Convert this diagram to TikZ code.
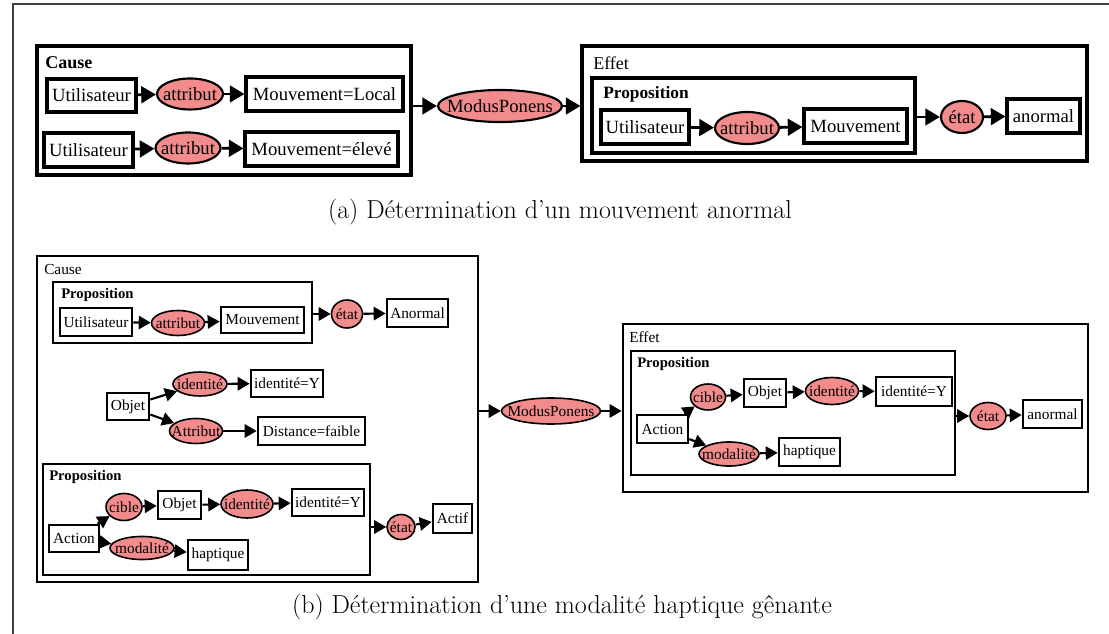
\documentclass[tikz,border=0pt]{standalone}
\usepackage{fontspec}
\newfontfamily\tms{Liberation Serif}
\usetikzlibrary{shapes.geometric,arrows.meta,fit}
\definecolor{elfill}{HTML}{F28C8C}
\newcommand\zw[1]{\makebox[0pt]{#1}}
\tikzset{
  fA/.style={font=\tms\fontsize{14}{16}\selectfont},
  fB/.style={font=\tms\fontsize{11.5}{13}\selectfont},
  esz/.style 2 args={minimum width=#1*0.75pt, minimum height=#2*0.75pt},
  bxA/.style={draw, rectangle, line width=2.3pt, fill=white, inner sep=0pt, fA},
  bxB/.style={draw, rectangle, line width=2pt, fill=white, inner sep=0pt, fB},
  grpA/.style={draw, line width=2.3pt, inner sep=0pt},
  grpB/.style={draw, line width=2.1pt, inner sep=0pt},
  elA/.style={ellipse, draw, line width=1.6pt, fill=elfill, inner sep=0pt, fA},
  elB/.style={ellipse, draw, line width=1.2pt, fill=elfill, inner sep=0pt, fB},
  arA/.style={line width=2.1pt, -{Triangle[length=11pt,width=12.5pt]}},
  arB/.style={line width=1.6pt, -{Triangle[length=9pt,width=10pt]}},
  lblA/.style={anchor=west, inner sep=0pt, font=\tms\fontsize{13.5}{15}\selectfont},
  lblB/.style={anchor=west, inner sep=0pt, font=\tms\fontsize{11.5}{13}\selectfont},
  captxt/.style={inner sep=0pt, font=\fontsize{19.5}{22}\selectfont},
}
\begin{document}
\begin{tikzpicture}[x=0.75pt,y=-0.75pt]
\useasboundingbox (0,0) rectangle (1109,634);
% frame
\coordinate (fr1) at (1109,4);
\coordinate (fr2) at (13,4);
\coordinate (fr3) at (13,634);
\draw[line width=0.9pt, black!75] (fr1) -- (fr2) -- (fr3);

% ---------------- (a) ----------------
\node[grpA, fit={(37,46) (411,175)}] (causeA) {};
\node[lblA, font=\tms\bfseries\fontsize{13.5}{15}\selectfont] (causeAl) at (45,63) {Cause};
\node[bxA, esz={89}{33}] (uA1) at (91.5,95.5) {\zw{Utilisateur}};
\node[elA, esz={66}{31}] (eA1) at (190,94) {\zw{attribut}};
\node[bxA, esz={157}{34}] (mlA) at (324.5,94) {\zw{Mouvement=Local}};
\node[bxA, esz={89}{34}] (uA2) at (88.5,150) {\zw{Utilisateur}};
\node[elA, esz={65}{31}] (eA2) at (188,148) {\zw{attribut}};
\node[bxA, esz={153}{34}] (meA) at (321.5,149) {\zw{Mouvement=élevé}};
\node[elA, esz={124}{32}] (mpA) at (500,106) {\zw{ModusPonens}};
\node[grpA, fit={(582,46) (1087,161)}] (effA) {};
\node[lblA] (effAl) at (593,63) {Effet};
\node[grpA, fit={(592,78) (915,153)}] (propA) {};
\node[lblA, font=\tms\bfseries\fontsize{13}{15}\selectfont] (propAl) at (603,94) {Proposition};
\node[bxA, esz={88}{34}] (uA3) at (645,127) {\zw{Utilisateur}};
\node[elA, esz={64}{32}] (eA3) at (747,128) {\zw{attribut}};
\node[bxA, esz={103}{34}] (mvA) at (855.5,126) {\zw{Mouvement}};
\node[elA, esz={42}{32}] (etA) at (962,117) {\zw{état}};
\node[bxA, esz={73}{34}] (anA) at (1043.5,116) {\zw{anormal}};

\draw[arA] (uA1) -- (eA1);
\draw[arA] (eA1) -- (mlA);
\draw[arA] (uA2) -- (eA2);
\draw[arA] (eA2) -- (meA);
\draw[arA] (causeA.east |- mpA) -- (mpA);
\draw[arA] (mpA) -- (mpA -| effA.west);
\draw[arA] (uA3) -- (eA3);
\draw[arA] (eA3) -- (mvA);
\draw[arA] (propA.east |- etA) -- (etA);
\draw[arA] (etA) -- (anA);

\node[captxt] (capA) at (560,212) {(a) Détermination d’un mouvement anormal};

% ---------------- (b) ----------------
\node[grpB, fit={(37,256) (478,582)}] (causeB) {};
\node[lblB] (causeBl) at (44,269) {Cause};
\node[grpB, fit={(53,282) (312,343)}] (propB1) {};
\node[lblB, font=\tms\bfseries\fontsize{11}{13}\selectfont] (propB1l) at (61,295) {Proposition};
\node[bxB, esz={72}{28}] (uB) at (96,322) {\zw{Utilisateur}};
\node[elB, esz={53}{25}] (eB1) at (178,323) {\zw{attribut}};
\node[bxB, esz={83}{26}] (mvB) at (262.5,320) {\zw{Mouvement}};
\node[elB, esz={31}{28}] (etB1) at (347,314) {\zw{état}};
\node[bxB, esz={61}{28}] (anB) at (417.5,313) {\zw{Anormal}};
\node[bxB, esz={42}{27}] (objB) at (128,406.5) {\zw{Objet}};
\node[elB, esz={54}{24}] (idB) at (200,384) {\zw{identité}};
\node[bxB, esz={72}{27}] (idyB) at (287,383.5) {\zw{identité=Y}};
\node[elB, esz={53}{25}] (atB) at (196,431) {\zw{Attribut}};
\node[bxB, esz={107}{28}] (dfB) at (311.5,431) {\zw{Distance=faible}};
\node[grpB, fit={(43,464) (370,575)}] (propB2) {};
\node[lblB, font=\tms\bfseries\fontsize{11}{13}\selectfont] (propB2l) at (49,477) {Proposition};
\node[elB, esz={36}{27}] (ciB) at (124,507) {\zw{cible}};
\node[bxB, esz={43}{28}] (obB2) at (179.5,505) {\zw{Objet}};
\node[elB, esz={52}{28}] (idB2) at (247,504) {\zw{identité}};
\node[bxB, esz={72}{27}] (idyB2) at (328,502.5) {\zw{identité=Y}};
\node[bxB, esz={50}{27}] (acB) at (74,538.5) {\zw{Action}};
\node[elB, esz={64}{23}] (moB) at (142,548) {\zw{modalité}};
\node[bxB, esz={60}{30}] (haB) at (218,555) {\zw{haptique}};
\node[elB, esz={28}{25}] (etB2) at (401,527) {\zw{état}};
\node[bxB, esz={39}{29}] (actB) at (452.5,518.5) {\zw{Actif}};

\node[elB, esz={99}{26}] (mpB) at (551,411) {\zw{ModusPonens}};

\node[grpB, fit={(623,324) (1088,492)}] (effB) {};
\node[lblB] (effBl) at (629,337) {Effet};
\node[grpB, fit={(631,351) (955,475)}] (propB3) {};
\node[lblB, font=\tms\bfseries\fontsize{11}{13}\selectfont] (propB3l) at (637,364) {Proposition};
\node[elB, esz={35}{26}] (ciR) at (708,397) {\zw{cible}};
\node[bxB, esz={42}{28}] (obR) at (765,393) {\zw{Objet}};
\node[elB, esz={53}{27}] (idR) at (832,391) {\zw{identité}};
\node[bxB, esz={76}{29}] (idyR) at (914,391.5) {\zw{identité=Y}};
\node[bxB, esz={51}{28}] (acR) at (662.5,429) {\zw{Action}};
\node[elB, esz={60}{24}] (moR) at (729,454) {\zw{modalité}};
\node[bxB, esz={61}{28}] (haR) at (809.5,452) {\zw{haptique}};
\node[elB, esz={36}{27}] (etR) at (988,416) {\zw{état}};
\node[bxB, esz={59}{28}] (anR) at (1052.5,414) {\zw{anormal}};

\draw[arB] (uB) -- (eB1);
\draw[arB] (eB1) -- (mvB);
\draw[arB] (propB1.east |- etB1) -- (etB1);
\draw[arB] (etB1) -- (anB);
\draw[arB] (objB) -- (idB);
\draw[arB] (idB) -- (idyB);
\draw[arB] (objB) -- (atB);
\draw[arB] (atB) -- (dfB);
\draw[arB] (acB) -- (ciB);
\draw[arB] (ciB) -- (obB2);
\draw[arB] (obB2) -- (idB2);
\draw[arB] (idB2) -- (idyB2);
\draw[arB] (acB) -- (moB);
\draw[arB] (moB) -- (haB);
\draw[arB] (propB2.east |- etB2) -- (etB2);
\draw[arB] (etB2) -- (actB);
\draw[arB] (causeB.east |- mpB) -- (mpB);
\draw[arB] (mpB) -- (mpB -| effB.west);
\draw[arB] (acR) -- (ciR);
\draw[arB] (ciR) -- (obR);
\draw[arB] (obR) -- (idR);
\draw[arB] (idR) -- (idyR);
\draw[arB] (acR) -- (moR);
\draw[arB] (moR) -- (haR);
\draw[arB] (propB3.east |- etR) -- (etR);
\draw[arB] (etR) -- (anR);

\node[captxt] (capB) at (562,607) {(b) Détermination d’une modalité haptique gênante};
\end{tikzpicture}
\end{document}
